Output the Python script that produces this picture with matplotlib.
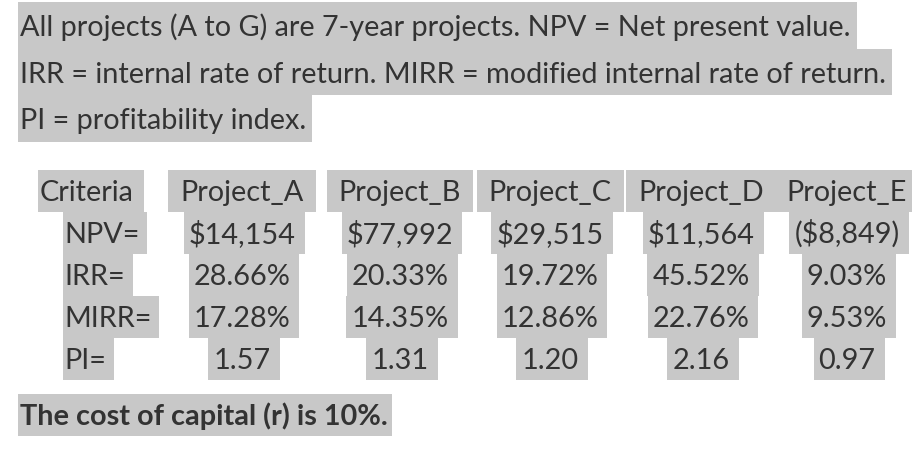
import matplotlib
matplotlib.use("Agg")
import matplotlib.pyplot as plt
from matplotlib.patches import Rectangle

intro_lines = ["All projects (A to G) are 7-year projects. NPV = Net present value.",
               "IRR = internal rate of return. MIRR = modified internal rate of return.",
               "PI = profitability index."]
criteria = ["NPV=", "IRR=", "MIRR=", "PI="]
projects = ["Project_A", "Project_B", "Project_C", "Project_D", "Project_E"]
npv = ["$14,154", "$77,992", "$29,515", "$11,564", "($8,849)"]
irr = ["28.66%", "20.33%", "19.72%", "45.52%", "9.03%"]
mirr = ["17.28%", "14.35%", "12.86%", "22.76%", "9.53%"]
pi = ["1.57", "1.31", "1.20", "2.16", "0.97"]
footer = "The cost of capital (r) is 10%."

W, H = 916, 463
fig = plt.figure(figsize=(W/100, H/100), dpi=100)
ax = fig.add_axes([0, 0, 1, 1])
ax.set_xlim(0, W); ax.set_ylim(H, 0); ax.axis("off")
GRAY = "#c8c8c8"; TXT = "#333333"; FS = 20.8
FONT = "Lato"
fig.canvas.draw()
r = fig.canvas.get_renderer()

def text_box(x, ytop, h, s, ha="left", padl=3, padr=3, bold=False, draw_box=True):
    t = ax.text(x, ytop + h*0.74, s, ha=ha, va="baseline", fontsize=FS, family=FONT,
                color=TXT, fontweight="bold" if bold else "normal", zorder=3)
    bb = t.get_window_extent(renderer=r)
    x0 = bb.x0 - padl; x1 = bb.x1 + padr
    if draw_box:
        ax.add_patch(Rectangle((x0, ytop), x1 - x0, h, facecolor=GRAY, edgecolor="none", zorder=1))
    return x0, x1

for i, line in enumerate(intro_lines):
    text_box(20, 2 + i*46.5, 46.5, line, padl=2, padr=6)

centers = [242, 400, 550, 701, 847]
hy = 170; rh = 42
text_box(40, hy, rh, "Criteria", padl=2, padr=10)
d_left = None
for j, (p, c) in enumerate(zip(projects, centers)):
    x0, x1 = text_box(c, hy, rh, p, ha="center", padl=12, padr=12, draw_box=j < 3)
    if j == 3:
        d_left = x0
    if j == 4:
        ax.add_patch(Rectangle((d_left, hy), 912 - d_left, rh, facecolor=GRAY, edgecolor="none", zorder=1))

rows = [npv, irr, mirr, pi]
for i, (lab, vals) in enumerate(zip(criteria, rows)):
    y = hy + rh*(i+1)
    text_box(64, y, rh, lab, padl=1, padr=8)
    for v, c in zip(vals, centers):
        text_box(c, y, rh, v, ha="center", padl=5, padr=9)

text_box(20, 394, 42, footer, padl=2, padr=4, bold=True)
fig.savefig("out.png", dpi=100, facecolor="white")
